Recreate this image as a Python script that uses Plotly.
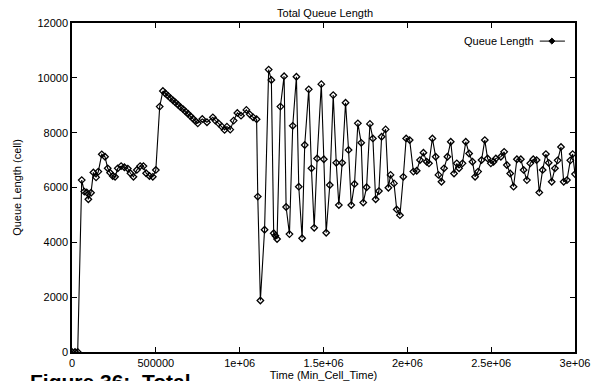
import plotly.graph_objects as go

# Time (Min_Cell_Time) and total queue length (cells)
time = [
    0, 18000, 34000, 58000, 73500, 88000, 97500, 113500, 127500, 143500,
    157000, 177500, 197000, 213000, 227000, 243000, 257000, 273000, 293000, 312500,
    333000, 348500, 366500, 386500, 406500, 426000, 442000, 462000, 482000, 500000,
    523000, 542000, 557000, 572000, 587000, 602000, 617000, 632000, 647000, 662000,
    677000, 692000, 707000, 722000, 737000, 750000, 777000, 805000, 840000, 855000,
    874000, 894000, 910000, 924000, 944000, 964000, 986000, 1008000, 1040000, 1060000,
    1080000, 1101000, 1108000, 1123500, 1148500, 1173000, 1189000, 1203000, 1213000, 1223000,
    1243000, 1265000, 1277000, 1297000, 1316500, 1338500, 1352500, 1372500, 1388000, 1412000,
    1428000, 1444500, 1462000, 1487000, 1502000, 1516000, 1537500, 1558000, 1576000, 1591500,
    1611500, 1631500, 1649500, 1665500, 1685000, 1705000, 1725000, 1737000, 1757000, 1777000,
    1794500, 1811000, 1830500, 1846500, 1870500, 1887000, 1900000, 1920500, 1936500, 1956000,
    1976000, 1993000, 2014000, 2036000, 2056000, 2075500, 2096000, 2115500, 2129000, 2149500,
    2169000, 2185500, 2203500, 2219000, 2239000, 2259000, 2278500, 2295000, 2308500, 2329000,
    2348500, 2368500, 2388500, 2404000, 2422000, 2442500, 2462000, 2478500, 2498000, 2514000,
    2528000, 2558000, 2577500, 2593500, 2613500, 2633500, 2653500, 2677000, 2693500, 2713000,
    2733000, 2751000, 2771000, 2787000, 2807000, 2826500, 2843000, 2861000, 2880500, 2896500,
    2916500, 2932500, 2952000, 2972000, 2986000, 3000000,
]
queue_length = [
    0, 0, 0, 6270, 5850, 5820, 5570, 5810, 6550, 6370,
    6580, 7210, 7120, 6700, 6540, 6420, 6390, 6700, 6780, 6740,
    6690, 6520, 6390, 6640, 6780, 6780, 6520, 6420, 6390, 6640,
    8950, 9520, 9430, 9350, 9260, 9180, 9100, 9020, 8930, 8860,
    8770, 8690, 8600, 8510, 8420, 8340, 8500, 8380, 8560, 8440,
    8340, 8220, 8100, 8220, 8110, 8440, 8720, 8620, 8830, 8670,
    8560, 8490, 5670, 1880, 4460, 10300, 9920, 4330, 4240, 4120,
    8950, 10060, 5290, 4300, 8250, 10040, 6030, 4150, 7550, 9580,
    6700, 4530, 7060, 9770, 7030, 4350, 6090, 9370, 6900, 5360,
    6900, 9090, 7370, 5360, 6130, 8340, 7630, 5450, 6010, 8320,
    7790, 5570, 5870, 7850, 8120, 5990, 6460, 6150, 5200, 4990,
    6390, 7790, 7730, 6580, 6610, 7000, 7270, 6940, 6880, 7790,
    7120, 6460, 6210, 6700, 7120, 7670, 6510, 6880, 6700, 6880,
    7670, 7240, 6940, 6390, 6580, 7000, 7730, 7060, 6880, 6940,
    7060, 7120, 7300, 6820, 6510, 6030, 7030, 7030, 6640, 6270,
    6880, 7030, 7000, 5820, 6640, 7220, 6900, 6210, 6700, 6990,
    7480, 6210, 6270, 6990, 7220, 6490,
]

x_tickvals = [0, 500000, 1000000, 1500000, 2000000, 2500000, 3000000]
x_ticktext = ["0", "500000", "1e+06", "1.5e+06", "2e+06", "2.5e+06", "3e+06"]
y_tickvals = [0, 2000, 4000, 6000, 8000, 10000, 12000]
y_ticktext = ["0", "2000", "4000", "6000", "8000", "10000", "12000"]

FONT = "Liberation Sans, Arial, Helvetica, sans-serif"

fig = go.Figure()
fig.add_trace(go.Scatter(
    x=time, y=queue_length, mode="lines+markers", name="Queue Length",
    line=dict(color="black", width=1.1),
    marker=dict(symbol="diamond-open", size=5, color="black", line=dict(width=1.3, color="black")),
    showlegend=False,
))

axis_common = dict(
    showgrid=False, zeroline=False, showline=True, linecolor="black", linewidth=1.5,
    mirror="ticks", ticks="inside", ticklen=5, tickwidth=1, tickcolor="black",
    tickfont=dict(family=FONT, size=11, color="black"),
)

fig.update_layout(
    width=591, height=381,
    margin=dict(l=72, r=16, t=23, b=29),
    paper_bgcolor="white", plot_bgcolor="white",
    font=dict(family=FONT, size=11, color="black"),
    title=dict(text="Total Queue Length", x=0.55, xanchor="center", y=0.965, yanchor="middle",
               font=dict(family=FONT, size=11, color="black")),
    xaxis=dict(range=[0, 3000000], tickvals=x_tickvals, ticktext=x_ticktext,
               title=dict(text="Time (Min_Cell_Time)", standoff=1,
                          font=dict(family=FONT, size=11)), automargin=False, **axis_common),
    yaxis=dict(range=[0, 12000], tickvals=y_tickvals, ticktext=y_ticktext,
               title=dict(text="Queue Length (cell)", standoff=14,
                          font=dict(family=FONT, size=11)), automargin=False, **axis_common),
)

# legend drawn gnuplot-style: text then sample
fig.add_annotation(text="Queue Length", xref="paper", yref="paper", x=0.922, y=0.945,
                   xanchor="right", yanchor="middle", showarrow=False,
                   font=dict(family=FONT, size=11, color="black"))
fig.add_shape(type="line", xref="paper", yref="paper", x0=0.930, x1=0.980, y0=0.945, y1=0.945,
              line=dict(color="black", width=1))
fig.add_shape(type="path", xref="paper", yref="paper",
              path="M 0.948,0.945 L 0.954,0.9541 L 0.960,0.945 L 0.954,0.9359 Z",
              fillcolor="black", line=dict(color="black", width=1))

# caption partially cut off at the bottom of the scan
fig.add_annotation(text="<b>Figure 36:  Total</b>", xref="paper", yref="paper",
                   x=-0.088, y=-0.05, xanchor="left", yanchor="top", showarrow=False,
                   font=dict(family=FONT, size=21, color="black"))

fig.write_html("out.html")
